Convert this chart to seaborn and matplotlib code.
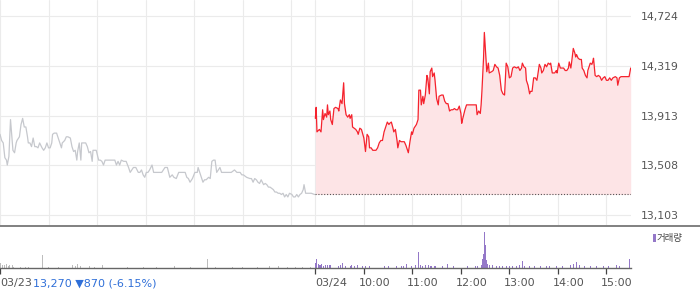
import numpy as np
import matplotlib
matplotlib.use("Agg")
import matplotlib.pyplot as plt
import seaborn as sns
from matplotlib.lines import Line2D
from matplotlib.patches import Rectangle

# ---------------- data ----------------
prev_close = 13270
change_text = "13,270 \u25BC870 (-6.15%)"
date_labels = ["03/23", "03/24"]
hour_ticks = [450, 510, 570, 630, 690, 750]          # minutes on the combined 2-day axis
hour_labels = ["10:00", "11:00", "12:00", "13:00", "14:00", "15:00"]
day1_hour_grid = [60, 120, 180, 240, 300, 360]
y_ticks = [13103, 13508, 13913, 14319, 14724]
y_tick_labels = ["13,103", "13,508", "13,913", "14,319", "14,724"]
legend_label = "거래량"

# 03/23 (previous day) price, minutes from 09:00
day1_minutes = [0, 2, 4, 6, 8, 9, 11, 13, 15, 16, 18, 20, 21, 24, 26, 28, 30, 32, 34, 35, 37, 39, 41, 43, 45, 47,
                49, 52, 54, 56, 58, 60, 62, 64, 65, 67, 70, 72, 74, 76, 77, 80, 82, 84, 87, 89, 91, 93, 95, 96,
                98, 100, 101, 103, 106, 108, 110, 112, 114, 115, 117, 119, 122, 124, 126, 128, 130, 134, 138,
                142, 144, 146, 148, 150, 153, 156, 159, 161, 163, 165, 168, 171, 173, 175, 177, 179, 181, 183,
                185, 188, 190, 194, 196, 200, 204, 207, 210, 213, 215, 218, 221, 224, 227, 229, 231, 233, 235,
                238, 241, 244, 245, 247, 249, 251, 253, 255, 258, 260, 262, 264, 266, 268, 270, 272, 274, 276,
                278, 280, 282, 286, 290, 293, 295, 297, 299, 301, 305, 309, 311, 313, 315, 317, 319, 321, 323,
                326, 328, 330, 332, 334, 336, 338, 340, 342, 344, 346, 348, 350, 352, 354, 356, 358, 361, 363,
                365, 367, 369, 371, 373, 375, 376, 378, 381, 385, 389]
day1_prices = [13760, 13710, 13690, 13570, 13550, 13510, 13580, 13880, 13710, 13630, 13610, 13690, 13710, 13740,
               13840, 13890, 13820, 13820, 13740, 13690, 13690, 13660, 13730, 13660, 13660, 13650, 13690, 13650,
               13630, 13650, 13690, 13650, 13650, 13690, 13760, 13770, 13770, 13730, 13690, 13650, 13690, 13710,
               13740, 13740, 13730, 13660, 13620, 13630, 13550, 13620, 13690, 13550, 13690, 13690, 13690, 13660,
               13610, 13620, 13540, 13630, 13630, 13630, 13550, 13550, 13540, 13510, 13550, 13550, 13550, 13550,
               13510, 13540, 13510, 13550, 13540, 13540, 13490, 13450, 13470, 13490, 13490, 13450, 13450, 13470,
               13430, 13410, 13450, 13450, 13470, 13510, 13450, 13450, 13450, 13450, 13490, 13490, 13410, 13430,
               13410, 13400, 13450, 13450, 13450, 13450, 13410, 13400, 13370, 13400, 13450, 13450, 13490, 13450,
               13410, 13370, 13390, 13390, 13410, 13400, 13540, 13550, 13550, 13450, 13470, 13490, 13450, 13450,
               13450, 13450, 13450, 13450, 13470, 13450, 13450, 13450, 13430, 13430, 13410, 13400, 13400, 13370,
               13400, 13390, 13370, 13360, 13390, 13350, 13360, 13350, 13330, 13330, 13320, 13310, 13290, 13290,
               13280, 13280, 13270, 13280, 13250, 13270, 13250, 13280, 13270, 13250, 13250, 13270, 13250, 13270,
               13280, 13310, 13350, 13280, 13280, 13280, 13270]

# 03/24 (today) price, minutes on combined axis (390 = 09:00)
day2_minutes = [390, 391, 392, 395, 397, 399, 400, 402, 404, 405, 406, 408, 409, 411, 413, 415, 418, 419, 421, 423,
                425, 426, 428, 430, 432, 433, 435, 436, 438, 440, 442, 443, 445, 447, 450, 452, 454, 456, 457,
                459, 461, 465, 467, 469, 471, 473, 475, 477, 479, 481, 482, 484, 486, 487, 489, 491, 492, 494,
                496, 498, 500, 502, 504, 505, 507, 509, 510, 512, 515, 517, 518, 520, 521, 523, 524, 526, 528,
                529, 531, 532, 534, 535, 537, 538, 540, 542, 543, 546, 548, 550, 552, 554, 556, 558, 560, 562,
                564, 566, 568, 570, 571, 572, 575, 577, 581, 585, 589, 590, 592, 594, 595, 596, 598, 599, 601,
                602, 604, 605, 608, 610, 612, 614, 616, 618, 620, 622, 624, 626, 628, 630, 632, 634, 636, 639,
                641, 643, 645, 646, 648, 650, 651, 653, 655, 656, 658, 660, 662, 664, 665, 667, 669, 670, 672,
                674, 676, 678, 680, 681, 683, 685, 686, 688, 689, 691, 693, 694, 697, 699, 701, 703, 704, 706,
                707, 709, 711, 712, 713, 715, 717, 719, 720, 722, 724, 726, 727, 730, 732, 733, 734, 736, 738,
                740, 742, 744, 746, 748, 750, 752, 754, 756, 758, 761, 763, 764, 766, 768, 771, 775, 778, 780]
day2_prices = [13890, 13980, 13780, 13800, 13780, 13960, 13880, 13930, 13900, 14000, 13920, 13950, 13880, 13840,
               13970, 13980, 13970, 13950, 14040, 14010, 14180, 14010, 13920, 13900, 13920, 13890, 13920, 13820,
               13810, 13800, 13780, 13760, 13810, 13800, 13730, 13620, 13760, 13740, 13650, 13650, 13630, 13630,
               13650, 13690, 13710, 13710, 13780, 13820, 13860, 13840, 13850, 13860, 13810, 13780, 13800, 13710,
               13650, 13710, 13700, 13700, 13700, 13670, 13630, 13610, 13700, 13780, 13760, 13810, 13840, 13880,
               14120, 14120, 14000, 14070, 14010, 14080, 14240, 14220, 14090, 14270, 14300, 14230, 14260, 14200,
               14050, 14000, 14070, 14080, 14080, 14030, 14010, 14010, 13950, 13960, 13960, 13970, 13960, 13960,
               13990, 13930, 13850, 13880, 13960, 14000, 14000, 14000, 14000, 13920, 13950, 13930, 14000, 14110,
               14380, 14590, 14380, 14270, 14340, 14260, 14270, 14280, 14330, 14310, 14300, 14240, 14120, 14090,
               14080, 14340, 14310, 14220, 14230, 14300, 14310, 14300, 14310, 14280, 14300, 14340, 14310, 14300,
               14200, 14160, 14090, 14110, 14110, 14220, 14220, 14200, 14240, 14330, 14300, 14260, 14280, 14330,
               14310, 14340, 14330, 14340, 14260, 14260, 14260, 14280, 14260, 14340, 14300, 14300, 14300, 14280,
               14280, 14300, 14350, 14300, 14350, 14460, 14420, 14390, 14410, 14380, 14370, 14370, 14300, 14280,
               14240, 14220, 14280, 14340, 14330, 14350, 14380, 14240, 14230, 14240, 14230, 14200, 14220, 14230,
               14200, 14200, 14220, 14200, 14220, 14230, 14220, 14160, 14220, 14230, 14230, 14230, 14230, 14300]

# volume (thousand shares, estimated)
vol1_minutes = [1, 3, 6, 8, 10, 12, 15, 17, 25, 31, 35, 53, 60, 72, 90, 93, 96, 99, 111, 117, 127, 158, 177, 193,
                216, 236, 257, 267, 288, 300, 319, 333, 345, 356, 366, 374, 384]
vol1_values = [12, 7, 8, 10, 5, 8, 7, 3, 3, 3, 2, 33, 3, 3, 8, 4, 10, 5, 4, 3, 8, 3, 2, 2,
               5, 2, 23, 2, 2, 2, 3, 4, 5, 3, 3, 3, 3]
vol2_minutes = [390, 391, 392, 394, 395, 397, 398, 400, 403, 405, 407, 409, 419, 421, 424, 427, 433, 435, 439, 442,
                448, 452, 457, 476, 480, 490, 496, 499, 503, 509, 514, 517, 518, 520, 523, 526, 530, 533, 538,
                547, 554, 561, 578, 588, 591, 595, 597, 598, 599, 600, 602, 603, 605, 609, 614, 618, 621, 626,
                630, 634, 639, 643, 646, 649, 655, 661, 668, 676, 680, 688, 696, 705, 709, 713, 717, 723, 730,
                738, 746, 752, 762, 763, 766, 779]
vol2_values = [13, 10, 22, 10, 7, 7, 10, 5, 8, 7, 7, 7, 5, 7, 12, 5, 5, 7, 5, 7,
               5, 5, 6, 6, 4, 4, 5, 5, 9, 4, 7, 7, 40, 7, 6, 7, 8, 6, 5,
               5, 10, 5, 5, 5, 5, 7, 23, 36, 90, 57, 19, 10, 8, 7, 5, 6, 5, 6,
               5, 6, 5, 7, 17, 6, 5, 5, 5, 6, 5, 5, 5, 7, 10, 15, 8, 6, 5,
               5, 5, 5, 8, 8, 5, 22]

# ---------------- style ----------------
sns.set_theme(style="white")
plt.rcParams["font.family"] = ["DejaVu Sans", "Noto Sans CJK KR"]

RED = "#f5222d"
FILL = "#fde4e6"
GRAY_LINE = "#c6c8cd"
GRID = "#ebebeb"
PURPLE = "#9478c8"
VOL_GRAY = "#bdbdbd"
TXT = "#555555"
BLUE = "#2f6fd8"

W, H = 700, 289
fig = plt.figure(figsize=(W / 100, H / 100), dpi=100)
fig.patch.set_facecolor("white")
x_right = 630.7 / W
ax = fig.add_axes([0, 64 / H, x_right, 225 / H])
ax_v = fig.add_axes([0, 21 / H, x_right, 42 / H])

# ---------------- main price panel ----------------
ax.fill_between(day2_minutes, day2_prices, prev_close, color=FILL, linewidth=0, zorder=1)
sns.lineplot(x=day1_minutes, y=day1_prices, ax=ax, color=GRAY_LINE, linewidth=0.9, estimator=None, sort=False, zorder=3)
sns.lineplot(x=day2_minutes, y=day2_prices, ax=ax, color=RED, linewidth=0.9, estimator=None, sort=False, zorder=4)
ax.plot([day2_minutes[0], day2_minutes[-1]], [prev_close, prev_close], color="#555555",
        linestyle=(0, (1, 1.6)), linewidth=0.8, zorder=3)

ax.set_xlim(0, 780)
ax.set_ylim(13021.5, 14854.3)
ax.set_xticks([0] + day1_hour_grid + [390] + hour_ticks)
ax.set_xticklabels([])
ax.set_yticks(y_ticks)
ax.set_yticklabels(y_tick_labels)
ax.yaxis.tick_right()
ax.tick_params(axis="y", length=0, pad=7, labelsize=7.8, labelcolor=TXT, right=False, left=False)
ax.tick_params(axis="x", length=0, bottom=False)
ax.grid(True, color=GRID, linewidth=0.8, zorder=0)
ax.set_axisbelow(True)
for s in ax.spines.values():
    s.set_visible(False)
ax.set_xlabel("")
ax.set_ylabel("")

# ---------------- volume panel ----------------
sns.histplot(x=vol1_minutes, weights=vol1_values, discrete=True, ax=ax_v, color=VOL_GRAY,
             alpha=1, linewidth=0, shrink=1.3)
sns.histplot(x=vol2_minutes, weights=vol2_values, discrete=True, ax=ax_v, color=PURPLE,
             alpha=1, linewidth=0, shrink=1.3)
ax_v.set_xlim(0, 780)
ax_v.set_ylim(0, 105)
ax_v.set_yticks([])
ax_v.set_xticks([0, 390] + hour_ticks)
ax_v.set_xticklabels([])
ax_v.tick_params(axis="x", bottom=True, length=4, width=0.9, color="#444444", direction="out")
ax_v.set_xlabel("")
ax_v.set_ylabel("")
for k, s in ax_v.spines.items():
    s.set_visible(k == "bottom")
ax_v.spines["bottom"].set_color("#666666")
ax_v.spines["bottom"].set_linewidth(1.0)

# dark separator between panels across full width
fig.add_artist(Line2D([0, 1], [1 - 225.5 / H, 1 - 225.5 / H], transform=fig.transFigure,
                      color="#6b6b6b", linewidth=1.2))

# x labels
lab_y = -11
ax_v.annotate(date_labels[0], xy=(0, 0), xycoords=("data", "axes fraction"), xytext=(0, lab_y),
              textcoords="offset points", ha="left", va="center", fontsize=8, color=TXT)
ax_v.annotate(date_labels[1], xy=(390, 0), xycoords=("data", "axes fraction"), xytext=(0, lab_y),
              textcoords="offset points", ha="left", va="center", fontsize=8, color=TXT)
for t, lab in zip(hour_ticks, hour_labels):
    ax_v.annotate(lab, xy=(t, 0), xycoords=("data", "axes fraction"), xytext=(7.5, lab_y),
                  textcoords="offset points", ha="center", va="center", fontsize=8, color=TXT)
fig.text(33 / W, 1 - 283 / H, change_text, ha="left", va="center", fontsize=8, color=BLUE)

# volume legend
fig.add_artist(Rectangle((652.7 / W, 1 - 241.7 / H), 2.8 / W, 7.5 / H, transform=fig.transFigure,
                         color=PURPLE, linewidth=0))
fig.text(657 / W, 1 - 238.5 / H, legend_label, ha="left", va="center", fontsize=6.8, color="#444444",
         family=["Noto Sans CJK KR", "DejaVu Sans"])

fig.savefig("out.png", dpi=100, facecolor="white")
